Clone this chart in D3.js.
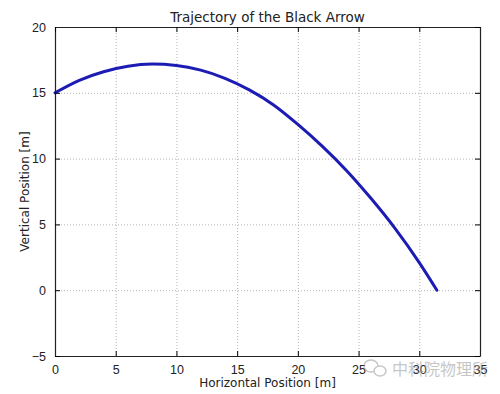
<!DOCTYPE html>
<html>
<head>
<meta charset="utf-8">
<script src="https://cdn.jsdelivr.net/npm/d3@7"></script>
<style>
  body { margin: 0; background: #fff; }
  svg { font-family: "DejaVu Sans", sans-serif; }
</style>
</head>
<body>
<div id="vis"></div>
<script>
const FRAME_WIDTH = 500;
const FRAME_HEIGHT = 394;
const MARGINS = {left: 55, right: 20, top: 27, bottom: 38};

// trajectory (x in m, y in m)
const xs = [0, 2, 4, 6, 8, 10, 12, 14, 16, 18, 20, 22, 24, 26, 28, 30, 31.45];
const ys = [15.0, 15.95, 16.6, 17.02, 17.18, 17.08, 16.72, 16.1, 15.22, 14.08, 12.6, 10.95, 9.1, 7.0, 4.7, 2.1, 0];

const xTicks = [0, 5, 10, 15, 20, 25, 30, 35];
const yTicks = [-5, 0, 5, 10, 15, 20];

const VIS_WIDTH = FRAME_WIDTH - MARGINS.left - MARGINS.right;
const VIS_HEIGHT = FRAME_HEIGHT - MARGINS.top - MARGINS.bottom;

const FRAME = d3.select("#vis")
  .append("svg")
    .attr("width", FRAME_WIDTH)
    .attr("height", FRAME_HEIGHT);

const X_SCALE = d3.scaleLinear().domain([0, 35]).range([0, VIS_WIDTH]);
const Y_SCALE = d3.scaleLinear().domain([-5, 20]).range([VIS_HEIGHT, 0]);

const plot = FRAME.append("g")
  .attr("transform", "translate(" + MARGINS.left + "," + MARGINS.top + ")");

// grid
plot.append("g")
  .call(d3.axisBottom(X_SCALE).tickValues(xTicks).tickSize(VIS_HEIGHT).tickFormat(""))
  .call(g => g.select(".domain").remove())
  .selectAll("line")
    .attr("stroke", "#b5b5b5")
    .attr("stroke-dasharray", "1,2");

plot.append("g")
  .call(d3.axisLeft(Y_SCALE).tickValues(yTicks).tickSize(-VIS_WIDTH).tickFormat(""))
  .call(g => g.select(".domain").remove())
  .selectAll("line")
    .attr("stroke", "#b5b5b5")
    .attr("stroke-dasharray", "1,2");

// the trajectory
const line = d3.line()
  .x((d, i) => X_SCALE(xs[i]))
  .y((d, i) => Y_SCALE(ys[i]))
  .curve(d3.curveMonotoneX);

plot.append("path")
  .datum(xs)
  .attr("d", line)
  .attr("fill", "none")
  .attr("stroke", "#1c1cb4")
  .attr("stroke-width", 3)
  .attr("stroke-linecap", "round");

// axes, ticks pointing inward
const fmt = d => d < 0 ? "\u2212" + Math.abs(d) : d;

const xAxis = plot.append("g")
  .attr("transform", "translate(0," + VIS_HEIGHT + ")")
  .call(d3.axisBottom(X_SCALE).tickValues(xTicks).tickSizeInner(-5).tickSizeOuter(0).tickPadding(9).tickFormat(fmt));
xAxis.selectAll("text").attr("font-size", "12.5px").attr("fill", "#222");

const yAxis = plot.append("g")
  .call(d3.axisLeft(Y_SCALE).tickValues(yTicks).tickSizeInner(-5).tickSizeOuter(0).tickPadding(9).tickFormat(fmt));
yAxis.selectAll("text").attr("font-size", "12.5px").attr("fill", "#222");

plot.append("g")
  .call(d3.axisTop(X_SCALE).tickValues(xTicks).tickSizeInner(-5).tickSizeOuter(0).tickFormat(""));
plot.append("g")
  .attr("transform", "translate(" + VIS_WIDTH + ",0)")
  .call(d3.axisRight(Y_SCALE).tickValues(yTicks).tickSizeInner(-5).tickSizeOuter(0).tickFormat(""));

plot.selectAll(".domain").attr("stroke", "#222").attr("stroke-width", 1.2);

// labels
FRAME.append("text")
  .attr("x", MARGINS.left + VIS_WIDTH / 2)
  .attr("y", 22)
  .attr("text-anchor", "middle")
  .attr("font-size", "13.5px")
  .attr("fill", "#222")
  .text("Trajectory of the Black Arrow");

FRAME.append("text")
  .attr("x", MARGINS.left + VIS_WIDTH / 2)
  .attr("y", 387)
  .attr("text-anchor", "middle")
  .attr("font-size", "12px")
  .attr("fill", "#222")
  .text("Horizontal Position [m]");

FRAME.append("text")
  .attr("transform", "translate(29," + (MARGINS.top + VIS_HEIGHT / 2) + ") rotate(-90)")
  .attr("text-anchor", "middle")
  .attr("font-size", "12px")
  .attr("fill", "#222")
  .text("Vertical Position [m]");

// watermark
const wm = FRAME.append("g").attr("opacity", 0.55);
wm.append("ellipse").attr("cx", 371).attr("cy", 366).attr("rx", 7).attr("ry", 6)
  .attr("fill", "none").attr("stroke", "#999").attr("stroke-width", 1.5);
wm.append("ellipse").attr("cx", 380).attr("cy", 371).attr("rx", 6).attr("ry", 5)
  .attr("fill", "#fff").attr("stroke", "#999").attr("stroke-width", 1.5);
wm.append("text")
  .attr("x", 392)
  .attr("y", 375)
  .attr("font-family", "Noto Sans CJK SC")
  .attr("font-size", "16px")
  .attr("fill", "#999")
  .text("中科院物理所");
</script>
</body>
</html>
